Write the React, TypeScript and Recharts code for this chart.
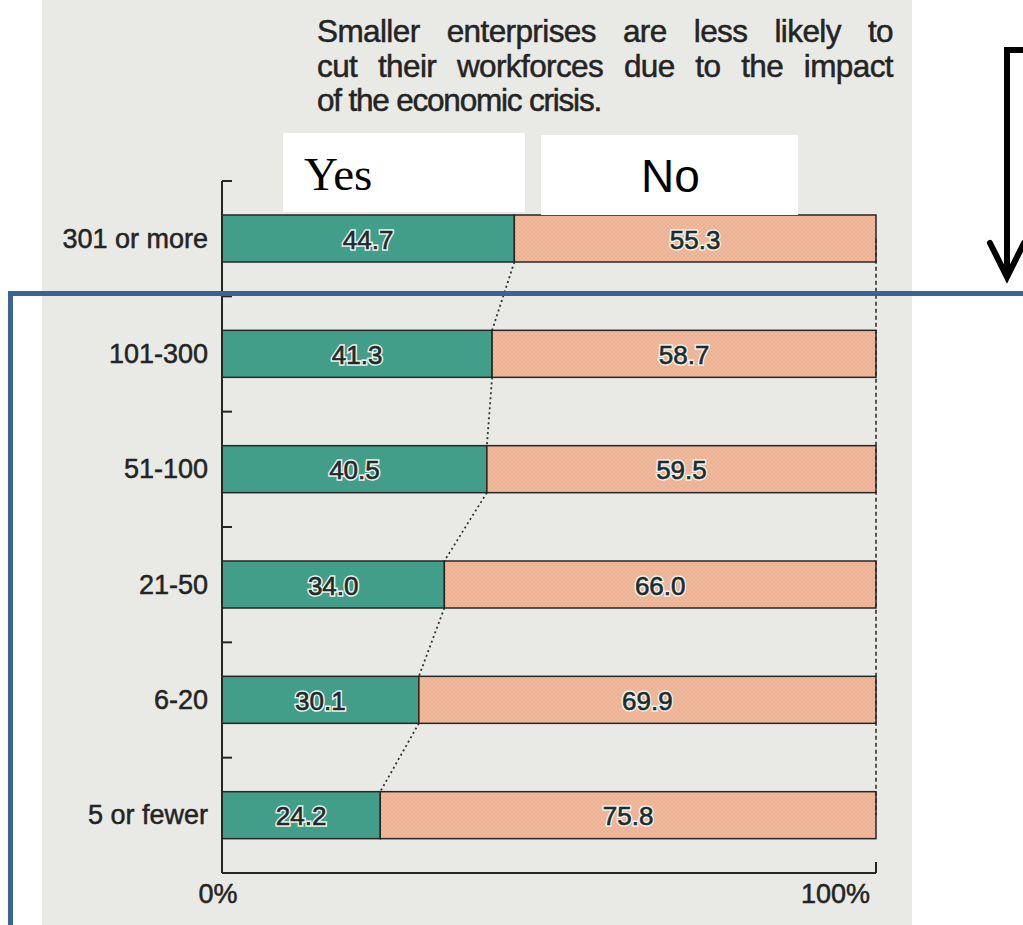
import React from "react";
import {
  BarChart,
  Bar,
  XAxis,
  YAxis,
  LabelList,
  ReferenceLine,
} from "recharts";

const categories = ["301 or more", "101-300", "51-100", "21-50", "6-20", "5 or fewer"];
const yesValues = [44.7, 41.3, 40.5, 34.0, 30.1, 24.2];
const noValues = [55.3, 58.7, 59.5, 66.0, 69.9, 75.8];
const xTicks = [0, 100];
const titleLines = [
  "Smaller enterprises are less likely to",
  "cut their workforces due to the impact",
  "of the economic crisis.",
];

const W = 1023;
const H = 925;
const MARGIN = { top: 181, right: 147, bottom: 12, left: 0 };
const X_AXIS_H = 40;
const BAND = (H - MARGIN.top - MARGIN.bottom - X_AXIS_H) / categories.length;

const SANS = "'Liberation Sans', Arial, sans-serif";
const SERIF = "'Liberation Serif', 'Times New Roman', serif";
const TEAL = "#429d89";
const EDGE = "#262626";
const INK = "#242424";
const TITLE_SIZE = 31.5;
const TITLE_TRACK = -0.6;
const TITLE_WIDTH = 576;

const data = categories.map((c, i) => ({ size: c, yes: yesValues[i], no: noValues[i] }));

// spread the words of a justified line over the full width
function wordGap(text: string) {
  const ctx = document.createElement("canvas").getContext("2d");
  if (!ctx) return 0;
  ctx.font = `${TITLE_SIZE}px ${SANS}`;
  const natural = ctx.measureText(text).width + TITLE_TRACK * text.length;
  const spaces = text.split(" ").length - 1;
  return Math.max(0, (TITLE_WIDTH - natural) / spaces);
}

const YesShape = (props: any) => {
  const { x, y, width, height, index } = props;
  const next = yesValues[index + 1];
  return (
    <g>
      <rect x={x} y={y} width={width} height={height} fill={TEAL} stroke={EDGE} strokeWidth={1.5} />
      {next !== undefined && (
        <line
          x1={x + width}
          y1={y + height}
          x2={x + (width * next) / yesValues[index]}
          y2={y + BAND}
          stroke="#333"
          strokeWidth={1.8}
          strokeDasharray="2 3"
        />
      )}
    </g>
  );
};

const NoShape = (props: any) => {
  const { x, y, width, height } = props;
  return (
    <g>
      <rect x={x} y={y} width={width} height={height} fill="#f2bb9e" />
      <rect x={x} y={y} width={width} height={height} fill="url(#hatch)" stroke={EDGE} strokeWidth={1.5} />
    </g>
  );
};

const valueLabel = (props: any) => {
  const { x, y, width, height, value } = props;
  const txt = Number(value).toFixed(1);
  const common = {
    x: x + width / 2,
    y: y + height / 2 + 1,
    textAnchor: "middle" as const,
    dominantBaseline: "central" as const,
    fontFamily: SANS,
    fontSize: 26,
  };
  return (
    <g>
      <text {...common} fill="#eef2ee" stroke="#eef2ee" strokeWidth={3.5}>
        {txt}
      </text>
      <text {...common} fill="#1d2b2a" stroke="#1d2b2a" strokeWidth={0.6}>
        {txt}
      </text>
    </g>
  );
};

const CategoryTick = (props: any) => {
  const { x, y, payload } = props;
  const half = typeof payload.offset === "number" && payload.offset > 0 ? payload.offset : BAND / 2;
  return (
    <g>
      <line x1={x} x2={x + 10} y1={y - half} y2={y - half} stroke={EDGE} strokeWidth={2} />
      <text
        x={x - 14}
        y={y}
        textAnchor="end"
        dominantBaseline="central"
        fontFamily={SANS}
        fontSize={27}
        fill={INK}
        stroke={INK}
        strokeWidth={0.5}
      >
        {payload.value}
      </text>
    </g>
  );
};

const PercentTick = (props: any) => {
  const { x, y, payload } = props;
  const isEnd = payload.value === 100;
  return (
    <g>
      {isEnd && <line x1={x} x2={x} y1={y - 11} y2={y} stroke={EDGE} strokeWidth={2} />}
      <text
        x={isEnd ? x - 6 : x - 4}
        y={y + 30}
        textAnchor={isEnd ? "end" : "middle"}
        fontFamily={SANS}
        fontSize={27}
        fill={INK}
        stroke={INK}
        strokeWidth={0.5}
      >
        {payload.value}%
      </text>
    </g>
  );
};

export default function App() {
  return (
    <div style={{ position: "absolute", left: 0, top: 0, width: W, height: H, background: "#fff", overflow: "hidden" }}>
      <svg width={0} height={0} style={{ position: "absolute" }}>
        <defs>
          <pattern id="hatch" width={4} height={4} patternUnits="userSpaceOnUse">
            <path d="M0,0 L4,4 M4,0 L0,4" stroke="#d99a7c" strokeWidth={0.6} opacity={0.55} />
          </pattern>
        </defs>
      </svg>
      <div style={{ position: "absolute", left: 42, top: 0, width: 870, height: H, background: "#e9e9e5" }} />
      <div style={{ position: "absolute", left: 0, top: 0 }}>
        <BarChart width={W} height={H} data={data} layout="vertical" margin={MARGIN} barSize={47}>
          <XAxis
            type="number"
            domain={[0, 100]}
            ticks={xTicks}
            height={X_AXIS_H}
            axisLine={{ stroke: EDGE, strokeWidth: 2 }}
            tickLine={false}
            tickSize={0}
            tickMargin={0}
            tick={<PercentTick />}
            interval={0}
          />
          <YAxis
            type="category"
            dataKey="size"
            width={222}
            axisLine={{ stroke: EDGE, strokeWidth: 2 }}
            tickLine={false}
            tickSize={0}
            tickMargin={0}
            tick={<CategoryTick />}
            interval={0}
          />
          <ReferenceLine
            segment={[
              { x: 100, y: categories[0] },
              { x: 100, y: categories[categories.length - 1] },
            ]}
            stroke={EDGE}
            strokeWidth={1.5}
            strokeDasharray="4 3"
          />
          <Bar dataKey="yes" stackId="a" shape={<YesShape />} isAnimationActive={false}>
            <LabelList dataKey="yes" content={valueLabel} />
          </Bar>
          <Bar dataKey="no" stackId="a" shape={<NoShape />} isAnimationActive={false}>
            <LabelList dataKey="no" content={valueLabel} />
          </Bar>
        </BarChart>
      </div>
      <svg width={W} height={H} style={{ position: "absolute", left: 0, top: 0, pointerEvents: "none" }}>
        {titleLines.map((t, i) => (
          <text
            key={i}
            x={317}
            y={42 + i * 34.5}
            fontFamily={SANS}
            fontSize={TITLE_SIZE}
            fill={INK}
            stroke={INK}
            strokeWidth={0.5}
            letterSpacing={i < 2 ? TITLE_TRACK : -1.2}
            style={i < 2 ? { wordSpacing: `${wordGap(t)}px` } : undefined}
          >
            {t}
          </text>
        ))}
        <rect x={283} y={133} width={242} height={79} fill="#fff" />
        <rect x={541} y={135} width={257} height={80} fill="#fff" />
        <text x={304} y={190} fontFamily={SERIF} fontSize={47} fill="#000">
          Yes
        </text>
        <text x={641} y={192} fontFamily={SANS} fontSize={46} fill="#000">
          No
        </text>
        <path d="M1023,50 L1007,50 L1007,274" stroke="#000" strokeWidth={6} fill="none" />
        <path d="M990,243 L1007,277 L1024,243" stroke="#000" strokeWidth={6} fill="none" strokeLinecap="round" />
        <rect x={8} y={291} width={W - 8} height={5} fill="#3c6395" />
        <rect x={8} y={291} width={5} height={H - 291} fill="#3c6395" />
      </svg>
    </div>
  );
}
